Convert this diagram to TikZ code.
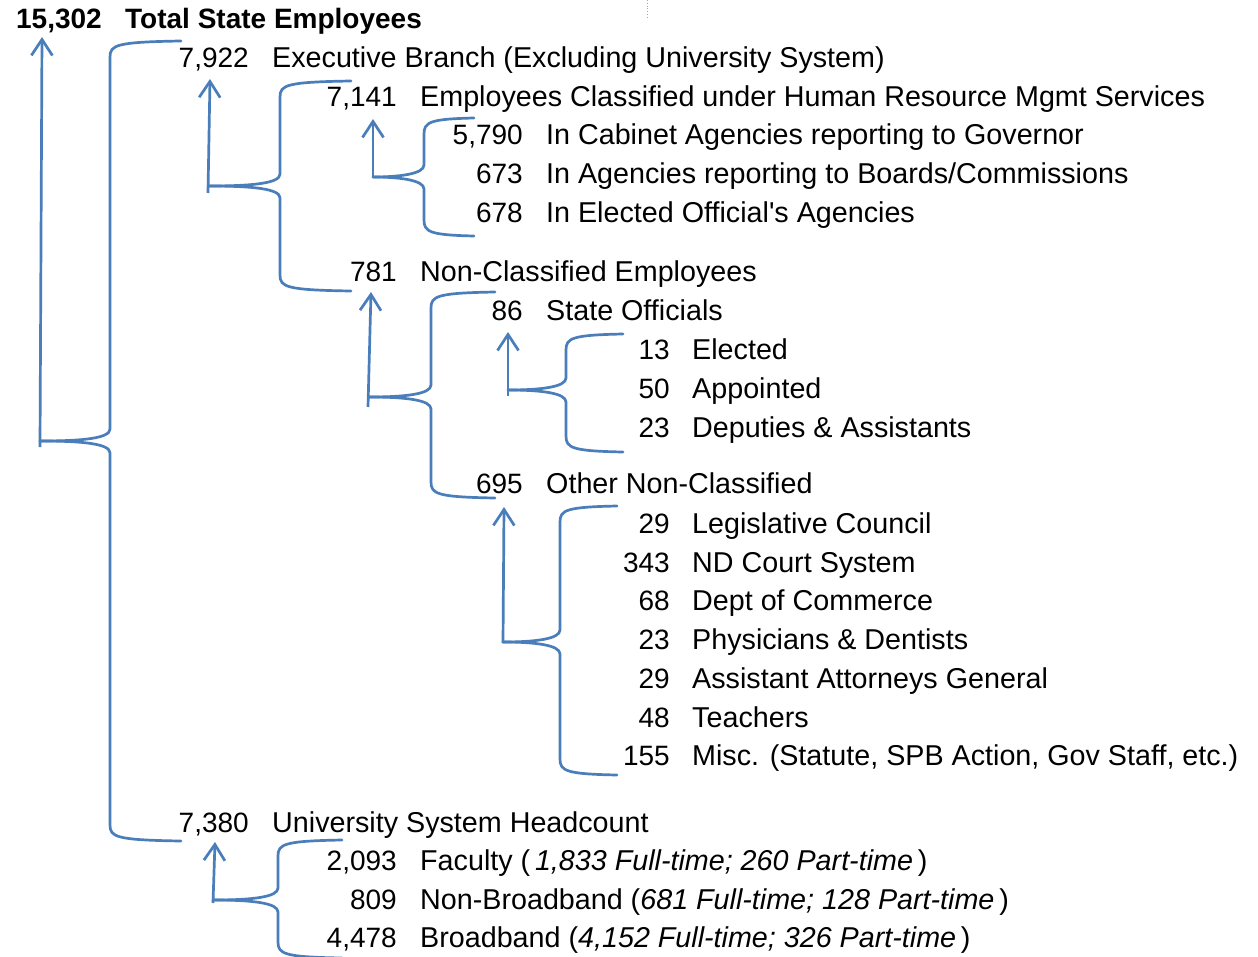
\documentclass[tikz,border=0pt]{standalone}
\usepackage{fontspec}
\setmainfont{Liberation Sans}
\usetikzlibrary{arrows.meta}
\definecolor{brblue}{RGB}{74,126,187}
\newcommand{\brgrp}[9]{%
  % #1 xa, #2 xb, #3 xe, #4 yt, #5 ym, #6 yb, #7 name
  \coordinate (#7tip) at (#1,#5);
  \draw[brc] (#3,#4) .. controls (#2+6,#4+1) and (#2,#4+4) .. (#2,#4+16) -- (#2,#5-12) .. controls (#2,#5-3) and (#2-25,#5) .. (#7tip);
  \draw[brc] (#7tip) .. controls (#2-25,#5) and (#2,#5+3) .. (#2,#5+12) -- (#2,#6-16) .. controls (#2,#6-4) and (#2+6,#6-1) .. (#3,#6);
  \coordinate (#7a) at (#8);
  \coordinate (#7b) at (#9);
  \draw[arr] (#7a) -- (#7b);
}
\begin{document}
\begin{tikzpicture}[x=1pt,y={(0pt,-1pt)},
  brc/.style={draw=brblue,line width=2.7pt,line join=round,line cap=round},
  arr/.style={draw=brblue,line width=2.7pt,-{Straight Barb[length=16pt,width=21pt]}},
  num/.style={anchor=base east,inner sep=0pt,font=\fontsize{28}{30}\selectfont},
  lab/.style={anchor=base west,inner sep=0pt,font=\fontsize{28.7}{30}\selectfont}]
\useasboundingbox (0,0) rectangle (1258,956);
\clip (0,0) rectangle (1258,956);
\fill[white] (0,0) rectangle (1258,956);
\draw[gray!70,dotted,line width=0.8pt] (647,0) -- (647,17);
% texts
\node[num,font=\bfseries\fontsize{28}{30}\selectfont] (n1) at (102,28) {15,302};
\node[lab,font=\bfseries\fontsize{28}{30}\selectfont] (l1) at (125,28) {Total State Employees};
\node[num] (n2) at (249,67) {7,922};
\node[lab] (l2) at (272,67) {Executive Branch (Excluding University System)};
\node[num] (n3) at (397,106) {7,141};
\node[lab] (l3) at (420,106) {Employees Classified under Human Resource Mgmt Services};
\node[num] (n4) at (523,144) {5,790};
\node[lab] (l4) at (546,144) {In Cabinet Agencies reporting to Governor};
\node[num] (n5) at (523,183) {673};
\node[lab] (l5) at (546,183) {In Agencies reporting to Boards/Commissions};
\node[num] (n6) at (523,222) {678};
\node[lab] (l6) at (546,222) {In Elected Official\textquotesingle s Agencies};
\node[num] (n7) at (397,281) {781};
\node[lab] (l7) at (420,281) {Non-Classified Employees};
\node[num] (n8) at (523,320) {86};
\node[lab] (l8) at (546,320) {State Officials};
\node[num] (n9) at (670,359) {13};
\node[lab] (l9) at (692,359) {Elected};
\node[num] (n10) at (670,398) {50};
\node[lab] (l10) at (692,398) {Appointed};
\node[num] (n11) at (670,437) {23};
\node[lab] (l11) at (692,437) {Deputies \& Assistants};
\node[num] (n12) at (523,493) {695};
\node[lab] (l12) at (546,493) {Other Non-Classified};
\node[num] (n13) at (670,533) {29};
\node[lab] (l13) at (692,533) {Legislative Council};
\node[num] (n14) at (670,572) {343};
\node[lab] (l14) at (692,572) {ND Court System};
\node[num] (n15) at (670,610) {68};
\node[lab] (l15) at (692,610) {Dept of Commerce};
\node[num] (n16) at (670,649) {23};
\node[lab] (l16) at (692,649) {Physicians \& Dentists};
\node[num] (n17) at (670,688) {29};
\node[lab] (l17) at (692,688) {Assistant Attorneys General};
\node[num] (n18) at (670,727) {48};
\node[lab] (l18) at (692,727) {Teachers};
\node[num] (n19) at (670,765) {155};
\node[lab] (l19) at (692,765) {Misc. (Statute, SPB Action, Gov Staff, etc.)};
\node[num] (n20) at (249,832) {7,380};
\node[lab] (l20) at (272,832) {University System Headcount};
\node[num] (n21) at (397,870) {2,093};
\node[lab] (l21) at (420,870) {Faculty (\,\textit{1,833 Full-time; 260 Part-time}\,)};
\node[num] (n22) at (397,909) {809};
\node[lab] (l22) at (420,909) {Non-Broadband (\textit{681 Full-time; 128 Part-time}\,)};
\node[num] (n23) at (397,947) {4,478};
\node[lab] (l23) at (420,947) {Broadband (\textit{4,152 Full-time; 326 Part-time}\,)};
% braces and arrows
\brgrp{40}{110}{181}{41}{441}{841}{A}{40,447}{42,37}
\brgrp{208}{280}{351}{81}{186}{291}{B}{208,193}{210,79}
\brgrp{373}{424}{474}{118}{177}{236}{C}{373,178}{373,119}
\brgrp{369}{431}{495}{292}{397}{498}{D}{368,407}{371,292}
\brgrp{508}{566}{623}{334}{390}{452}{E}{508,396}{508,332}
\brgrp{503}{560}{617}{506}{642}{775}{F}{503,643}{504,507}
\brgrp{213}{278}{342}{840}{900}{958}{G}{213,903}{215,842}
\end{tikzpicture}
\end{document}
